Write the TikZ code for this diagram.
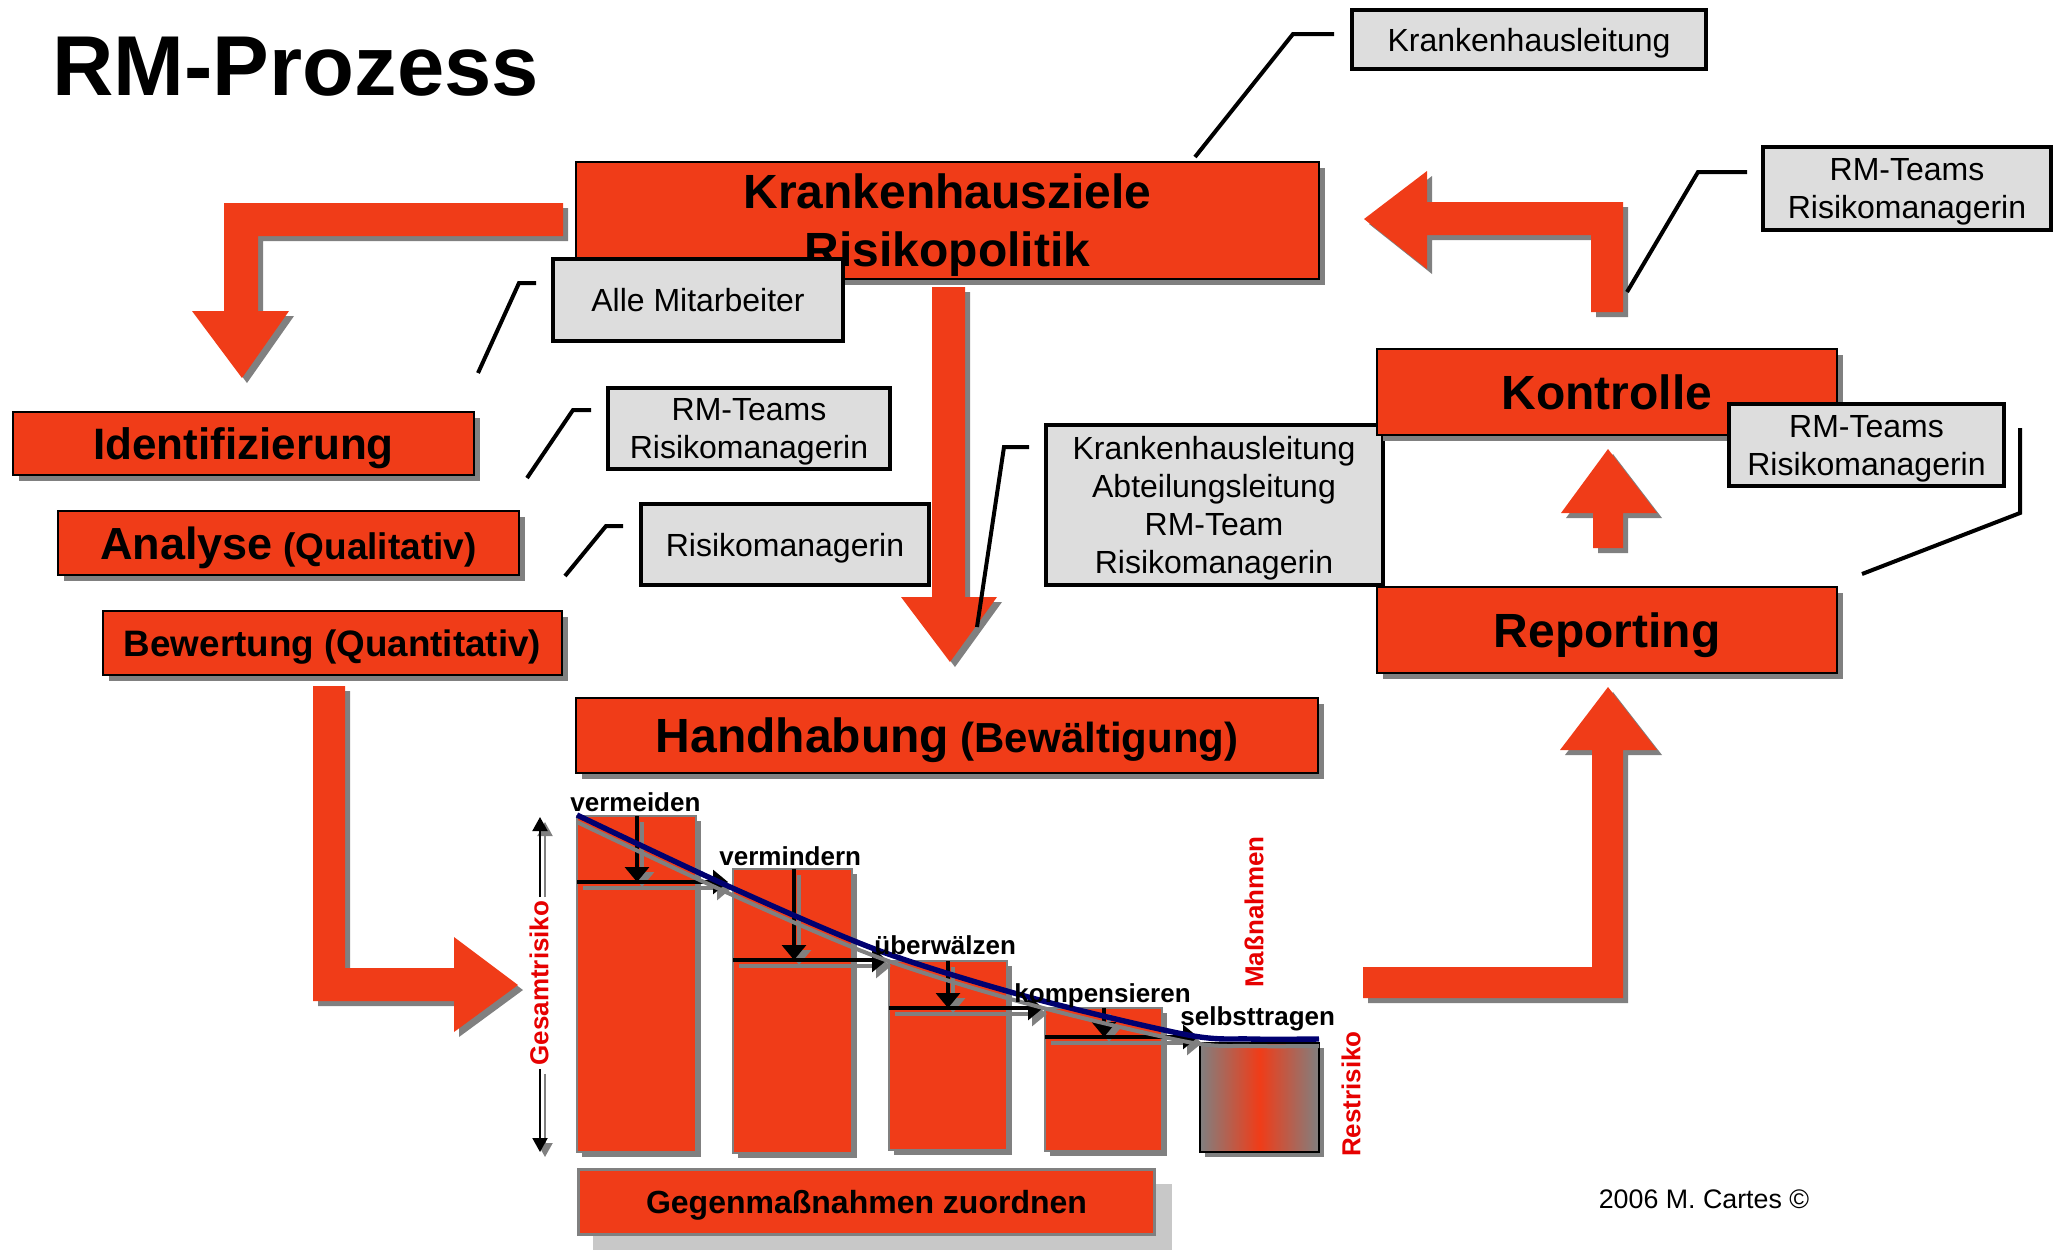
\documentclass[tikz,border=0pt]{standalone}
\usepackage{fontspec}
\setmainfont{Liberation Sans}
\usetikzlibrary{shadows,arrows.meta}
\definecolor{rmred}{RGB}{240,60,24}
\definecolor{boxgray}{RGB}{221,221,221}
\definecolor{shgray}{RGB}{128,128,128}
\definecolor{curvenavy}{RGB}{0,0,112}
\definecolor{lblred}{RGB}{230,0,0}
\definecolor{hatchgray}{RGB}{200,200,200}
\tikzset{
  redbox/.style={fill=rmred, draw=black, line width=1pt, inner sep=0pt, align=center, text depth=0pt,
    drop shadow={shadow xshift=3pt, shadow yshift=-3pt, fill=shgray, opacity=1}},
  graybox/.style={fill=boxgray, draw=black, line width=2pt, inner sep=0pt, align=center, text depth=0pt,
    font=\fontsize{16}{19}\selectfont},
  bigfont/.style={font=\bfseries\fontsize{24}{29}\selectfont},
  leader/.style={draw=black, line width=2pt},
  blockarrow/.style={fill=rmred,
    drop shadow={shadow xshift=2.5pt, shadow yshift=-2.5pt, fill=shgray, opacity=1}},
  stairbar/.style={fill=rmred, draw=shgray, line width=1pt, inner sep=0pt,
    drop shadow={shadow xshift=2.5pt, shadow yshift=-2.5pt, fill=shgray, opacity=1}},
  steparrow/.style={draw=black, line width=1.6pt, -{Triangle[length=7.5pt,width=12pt]}},
  stepshadow/.style={draw=shgray, line width=1.6pt, -{Triangle[length=7.5pt,width=12pt]}},
  steplabel/.style={font=\bfseries\fontsize{13}{15}\selectfont, inner sep=0pt, anchor=base west},
  redlabel/.style={font=\bfseries\fontsize{13}{15}\selectfont, text=lblred, rotate=90, inner sep=1.5pt},
  garrow/.style={draw=black, line width=1pt, -{Triangle[length=7pt,width=7.5pt]}},
  gshadow/.style={draw=shgray, line width=1pt, -{Triangle[length=7pt,width=7.5pt]}},
}
\begin{document}
\begin{tikzpicture}[x=0.5pt,y=-0.5pt]
\useasboundingbox (0,0) rectangle (2062,1250);

% title
\node[anchor=base west, inner sep=0pt, font=\bfseries\fontsize{42.5}{50}\selectfont] (title) at (52,95) {RM-Prozess};

% block arrows
\fill[blockarrow] (563,203) -- (224,203) -- (224,311) -- (192,311) -- (242,378) -- (289,311) -- (258,311) -- (258,236) -- (563,236) -- cycle;
\fill[blockarrow] (932,287) -- (965,287) -- (965,597) -- (997,597) -- (950,662) -- (901,597) -- (932,597) -- cycle;
\fill[blockarrow] (1591,312) -- (1591,235) -- (1427,235) -- (1427,269) -- (1364,219) -- (1427,171) -- (1427,202) -- (1623,202) -- (1623,312) -- cycle;
\fill[blockarrow] (1593,548) -- (1593,513) -- (1561,513) -- (1608,449) -- (1657,513) -- (1623,513) -- (1623,548) -- cycle;
\fill[blockarrow] (313,686) -- (345,686) -- (345,968) -- (454,968) -- (454,937) -- (518,985) -- (454,1032) -- (454,1001) -- (313,1001) -- cycle;
\fill[blockarrow] (1363,967) -- (1592,967) -- (1592,750) -- (1560,750) -- (1608,687) -- (1657,750) -- (1623,750) -- (1623,998) -- (1363,998) -- cycle;

% boxes
\node[redbox, bigfont, minimum width=371.5pt, minimum height=58.5pt] (ziele) at (947.5,220.5) {Krankenhausziele\\Risikopolitik};
\node[graybox, minimum width=177pt, minimum height=29.5pt] (khl) at (1529,39.5) {Krankenhausleitung};
\node[graybox, minimum width=145pt, minimum height=41pt] (alle) at (698,300) {Alle Mitarbeiter};
\node[redbox, font=\bfseries\fontsize{22}{26}\selectfont, minimum width=230.5pt, minimum height=31.5pt] (ident) at (243.5,443.5) {Identifizierung};
\node[graybox, minimum width=141pt, minimum height=40.5pt] (rmt1) at (749,428.5) {RM-Teams\\Risikomanagerin};
\node[redbox, font=\bfseries\fontsize{18.5}{22}\selectfont, minimum width=230.5pt, minimum height=32pt] (analyse) at (288.5,543) {{\fontsize{22.5}{27}\selectfont Analyse} (Qualitativ)};
\node[graybox, minimum width=144pt, minimum height=40.5pt] (rm1) at (785,544.5) {Risikomanagerin};
\node[redbox, font=\bfseries\fontsize{18.4}{22}\selectfont, minimum width=229.5pt, minimum height=32pt] (bewert) at (332.5,643) {Bewertung (Quantitativ)};
\node[redbox, font=\bfseries\fontsize{21}{25}\selectfont, minimum width=371pt, minimum height=37.5pt] (handh) at (947,735.5) {{\fontsize{24}{29}\selectfont Handhabung} (Bewältigung)};
\node[graybox, minimum width=168.5pt, minimum height=80pt] (multi) at (1214,505) {Krankenhausleitung\\Abteilungsleitung\\RM-Team\\Risikomanagerin};
\node[redbox, bigfont, minimum width=230pt, minimum height=43pt] (kontr) at (1607,392) {Kontrolle};
\node[graybox, minimum width=137.5pt, minimum height=41pt] (rmt3) at (1866.5,445) {RM-Teams\\Risikomanagerin};
\node[redbox, bigfont, minimum width=230pt, minimum height=43pt] (report) at (1607,630) {Reporting};
\node[graybox, minimum width=144pt, minimum height=41.5pt] (rmt2) at (1907,188.5) {RM-Teams\\Risikomanagerin};

% leaders
\coordinate (k1) at (1195,157); \coordinate (k2) at (1293,34); \coordinate (k3) at (1334,34);
\coordinate (a1) at (478,373); \coordinate (a2) at (519,283); \coordinate (a3) at (536,283);
\coordinate (r1) at (527,478); \coordinate (r2) at (573,410); \coordinate (r3) at (591,410);
\coordinate (s1) at (565,576); \coordinate (s2) at (606,526); \coordinate (s3) at (623,526);
\coordinate (m1) at (977,627); \coordinate (m2) at (1004,447); \coordinate (m3) at (1029,447);
\coordinate (t1) at (1627,292); \coordinate (t2) at (1698,172); \coordinate (t3) at (1747,172);
\coordinate (u1) at (2020,428); \coordinate (u2) at (2020,513); \coordinate (u3) at (1862,574);
\draw[leader] (k1) -- (k2) -- (k3);
\draw[leader] (a1) -- (a2) -- (a3);
\draw[leader] (r1) -- (r2) -- (r3);
\draw[leader] (s1) -- (s2) -- (s3);
\draw[leader] (m1) -- (m2) -- (m3);
\draw[leader] (t1) -- (t2) -- (t3);
\draw[leader] (u1) -- (u2) -- (u3);

% staircase bars
\node[stairbar, minimum width=59.5pt, minimum height=168pt] (b1) at (636.5,984) {};
\node[stairbar, minimum width=59.5pt, minimum height=142pt] (b2) at (792.5,1011) {};
\node[stairbar, minimum width=59pt, minimum height=94.5pt] (b3) at (948,1055.5) {};
\node[stairbar, minimum width=58.5pt, minimum height=71.5pt] (b4) at (1103.5,1079.5) {};
\node[draw=black, line width=1pt, inner sep=0pt, left color=shgray, right color=shgray, middle color=rmred,
  drop shadow={shadow xshift=2.5pt, shadow yshift=-2.5pt, fill=shgray, opacity=1},
  minimum width=59.5pt, minimum height=54.5pt] (b5) at (1259.5,1097.5) {};

% step arrows
\foreach \x/\ya/\yb in {637/816/882, 794/869/960, 948/961/1008, 1104/1008/1037} {
  \draw[stepshadow] (\x+5,\ya+6) -- (\x+5,\yb+5);
  \draw[steparrow] (\x,\ya) -- (\x,\yb);
}
\foreach \xa/\y/\xb in {577/882/728, 733/960/887, 889/1008/1043, 1045/1037/1198} {
  \draw[stepshadow] (\xa+6,\y+6) -- (\xb+4,\y+6);
  \draw[steparrow] (\xa,\y) -- (\xb,\y);
}

% risk curve
\draw[shgray, line width=2pt] plot[smooth] coordinates {(577,822) (728,893) (880,958) (1032,1005) (1188,1042) (1250,1046) (1319,1046)};
\draw[curvenavy, line width=2.7pt] plot[smooth] coordinates {(577,815) (728,886) (880,951) (1032,998) (1188,1035) (1250,1039) (1319,1039)};

% step labels
\node[steplabel] (lv1) at (570,811) {vermeiden};
\node[steplabel] (lv2) at (719,865) {vermindern};
\node[steplabel] (lv3) at (874,954) {überwälzen};
\node[steplabel] (lv4) at (1014,1002) {kompensieren};
\node[steplabel] (lv5) at (1180,1025) {selbsttragen};

% red labels
\node[redlabel] (mass) at (1254,912) {Maßnahmen};
\node[redlabel] (rest) at (1351,1094) {Restrisiko};
\node[redlabel] (gesamt) at (539,983) {Gesamtrisiko};
\coordinate (gtop) at (540,817);
\coordinate (gbot) at (540,1152);
\coordinate (gtops) at (545,822);
\coordinate (gbots) at (545,1157);
\draw[gshadow] (gesamt.east -| gtops) -- (gtops);
\draw[gshadow] (gesamt.west -| gbots) ++(0,5) -- (gbots);
\draw[garrow] (gesamt.east -| gtop) -- (gtop);
\draw[garrow] (gesamt.west -| gbot) -- (gbot);

% Gegenmassnahmen
\fill[hatchgray] (593,1184) rectangle (1172,1250);
\node[fill=rmred, draw=shgray, line width=1.5pt, inner sep=0pt, text depth=0pt, minimum width=288pt, minimum height=32.5pt,
  font=\bfseries\fontsize{16}{19}\selectfont] (gegen) at (866.5,1201.5) {Gegenmaßnahmen zuordnen};

% copyright
\node[font=\fontsize{13.4}{16}\selectfont, inner sep=0pt] (copy) at (1704,1199) {2006 M. Cartes ©};
\end{tikzpicture}
\end{document}
